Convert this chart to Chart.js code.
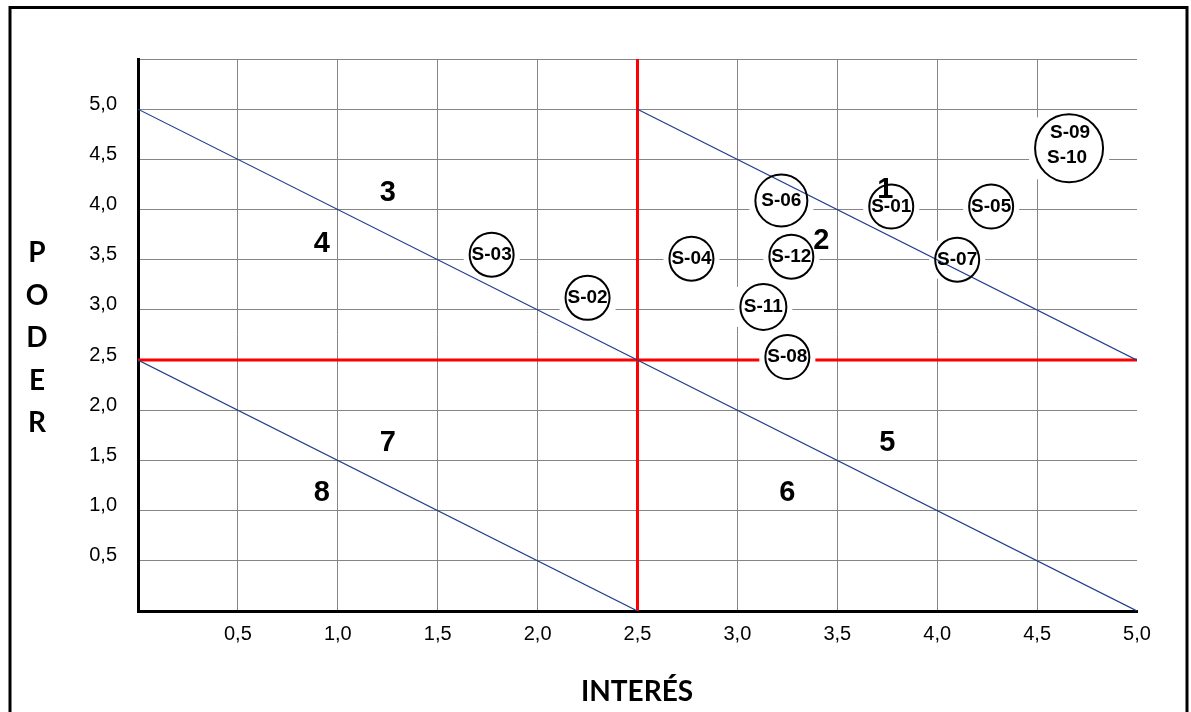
<!DOCTYPE html>
<html lang="es">
<head>
    <meta charset="UTF-8">
    <title>Matriz Poder / Interés</title>
    <style>
        html, body {
            margin: 0;
            padding: 0;
            background: #fff;
        }
        #wrap {
            width: 1191px;
            height: 712px;
        }
    </style>
</head>
<body>
    <div id="wrap"><canvas id="myChart" width="1191" height="712"></canvas></div>

    <script src="https://cdn.jsdelivr.net/npm/chart.js"></script>
    <script>
        // stakeholders (interés, poder)
        const stakeholders = ['S-01', 'S-02', 'S-03', 'S-04', 'S-05', 'S-06', 'S-07', 'S-08', 'S-09\nS-10', 'S-11', 'S-12'];
        const interes = [3.77, 2.25, 1.77, 2.77, 4.27, 3.22, 4.10, 3.25, 4.66, 3.13, 3.27];
        const poder   = [4.03, 3.12, 3.55, 3.51, 4.03, 4.09, 3.50, 2.53, 4.61, 3.03, 3.53];

        // zone numbers
        const zoneNames = ['1', '2', '3', '4', '5', '6', '7', '8'];
        const zoneX = [3.74, 3.42, 1.25, 0.92, 3.75, 3.25, 1.25, 0.92];
        const zoneY = [4.19, 3.69, 4.16, 3.66, 1.67, 1.18, 1.67, 1.18];

        // dividing lines
        const redVertical   = [{ x: 2.5, y: 0 }, { x: 2.5, y: 5.5 }];
        const redHorizontal = [{ x: 0, y: 2.5 }, { x: 5, y: 2.5 }];
        const diagMiddle = [{ x: 0, y: 5 }, { x: 5, y: 0 }];
        const diagUpper  = [{ x: 2.5, y: 5 }, { x: 5, y: 2.5 }];
        const diagLower  = [{ x: 0, y: 2.5 }, { x: 2.5, y: 0 }];

        // ticks
        const xTickVals = [0, 0.5, 1, 1.5, 2, 2.5, 3, 3.5, 4, 4.5, 5];
        const xTickLabels = ['', '0,5', '1,0', '1,5', '2,0', '2,5', '3,0', '3,5', '4,0', '4,5', '5,0'];
        const yTickVals = [0, 0.5, 1, 1.5, 2, 2.5, 3, 3.5, 4, 4.5, 5, 5.5];
        const yTickLabels = ['', '0,5', '1,0', '1,5', '2,0', '2,5', '3,0', '3,5', '4,0', '4,5', '5,0', ''];

        const xTitle = 'INTERÉS';
        const yTitle = 'PODER';

        const bubbleRadius = [22, 22, 22, 22, 22, 26, 22, 22, 34, 23, 22];
        const labelFont = 'bold 19px "Liberation Sans", Arial, sans-serif';

        const decor = {
            id: 'decor',
            beforeDraw(chart) {
                const ctx = chart.ctx;
                ctx.save();
                ctx.fillStyle = '#fff';
                ctx.fillRect(0, 0, chart.width, chart.height);
                ctx.restore();
            },
            afterDatasetDraw(chart, args) {
                if (args.index !== 1) return;
                const ctx = chart.ctx;
                const meta = chart.getDatasetMeta(5);
                ctx.save();
                // white boxes behind the bubbles
                ctx.fillStyle = '#fff';
                meta.data.forEach((pt, i) => {
                    const r = bubbleRadius[i];
                    ctx.fillRect(pt.x - r - 6, pt.y - r + 3, 2 * r + 12, 2 * r - 6);
                });
                // zone numbers
                const xs = chart.scales.x, ys = chart.scales.y;
                ctx.fillStyle = '#000';
                ctx.font = 'bold 29px "Liberation Sans", Arial, sans-serif';
                ctx.textAlign = 'center';
                ctx.textBaseline = 'middle';
                zoneNames.forEach((n, i) => {
                    ctx.fillText(n, xs.getPixelForValue(zoneX[i]), ys.getPixelForValue(zoneY[i]));
                });
                ctx.restore();
            },
            afterDatasetsDraw(chart) {
                const ctx = chart.ctx;
                const meta = chart.getDatasetMeta(5);
                ctx.save();
                ctx.fillStyle = '#000';
                ctx.font = labelFont;
                ctx.textAlign = 'center';
                ctx.textBaseline = 'middle';
                meta.data.forEach((pt, i) => {
                    const lines = stakeholders[i].split('\n');
                    if (lines.length === 1) {
                        ctx.fillText(lines[0], pt.x, pt.y);
                    } else {
                        ctx.fillText(lines[0], pt.x + 1, pt.y - 16);
                        ctx.fillText(lines[1], pt.x - 2, pt.y + 9);
                    }
                });

                // axis titles
                ctx.font = 'bold 28px Lato, "Open Sans", sans-serif';
                ctx.fillText(xTitle, 637, 692);
                yTitle.split('').forEach((ch, i) => {
                    ctx.fillText(ch, 37, 253 + i * 42.5);
                });

                // outer frame
                ctx.strokeStyle = '#000';
                ctx.lineWidth = 3;
                ctx.strokeRect(10, 7.5, 1177, 800);
                ctx.restore();
            }
        };

        function lineSet(data, color, width, order) {
            return {
                data: data,
                showLine: true,
                borderColor: color,
                borderWidth: width,
                pointRadius: 0,
                fill: false,
                order: order
            };
        }

        const ctx = document.getElementById('myChart').getContext('2d');
        const myChart = new Chart(ctx, {
            type: 'scatter',
            data: {
                datasets: [
                    lineSet(redVertical, '#ff0000', 3, 6),
                    lineSet(redHorizontal, '#ff0000', 3, 5),
                    lineSet(diagMiddle, '#1f3d8c', 1.2, 4),
                    lineSet(diagUpper, '#1f3d8c', 1.2, 3),
                    lineSet(diagLower, '#1f3d8c', 1.2, 2),
                    {
                        data: interes.map((x, i) => ({ x: x, y: poder[i] })),
                        pointRadius: bubbleRadius,
                        pointBackgroundColor: 'rgba(0,0,0,0)',
                        pointBorderColor: '#000',
                        pointBorderWidth: 2,
                        showLine: false,
                        order: 0
                    }
                ]
            },
            options: {
                responsive: false,
                animation: false,
                layout: {
                    padding: { top: 59, right: 54, left: 0, bottom: 0 }
                },
                plugins: {
                    legend: { display: false },
                    tooltip: { enabled: false }
                },
                scales: {
                    x: {
                        type: 'linear',
                        min: 0,
                        max: 5,
                        afterBuildTicks: s => { s.ticks = xTickVals.map(v => ({ value: v })); },
                        afterFit: s => { s.height = 101; },
                        ticks: {
                            callback: (v, i) => xTickLabels[i],
                            color: '#000',
                            font: { family: '"Liberation Sans", Arial, sans-serif', size: 20 },
                            padding: 11,
                            maxRotation: 0,
                            autoSkip: false
                        },
                        grid: {
                            color: c => (c.tick && c.tick.value === 5) ? 'rgba(0,0,0,0)' : '#858585',
                            lineWidth: 1,
                            drawTicks: false
                        },
                        border: { color: '#000', width: 3 }
                    },
                    y: {
                        type: 'linear',
                        min: 0,
                        max: 5.5,
                        afterBuildTicks: s => { s.ticks = yTickVals.map(v => ({ value: v })); },
                        afterFit: s => { s.width = 138; },
                        ticks: {
                            callback: (v, i) => yTickLabels[i],
                            color: '#000',
                            font: { family: '"Liberation Sans", Arial, sans-serif', size: 20 },
                            padding: 21,
                            labelOffset: -5,
                            autoSkip: false
                        },
                        grid: {
                            color: '#858585',
                            lineWidth: 1,
                            drawTicks: false
                        },
                        border: { color: '#000', width: 3 }
                    }
                }
            },
            plugins: [decor]
        });
    </script>
</body>
</html>
